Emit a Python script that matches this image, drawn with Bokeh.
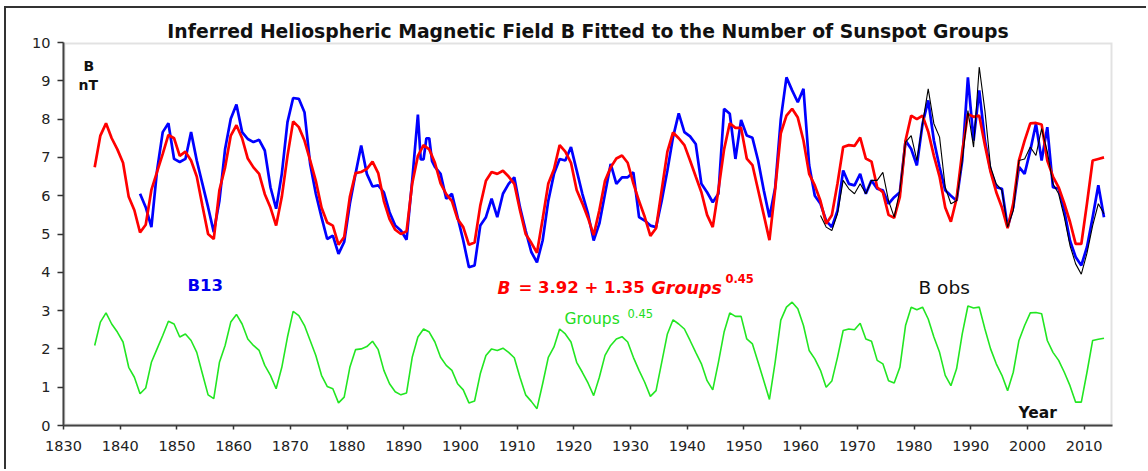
import numpy as np
from bokeh.plotting import figure
from bokeh.models import Label, BoxAnnotation, FixedTicker, Range1d
from bokeh.embed import file_html
from bokeh.resources import INLINE

# ---------------- data ----------------
fit_years = list(np.arange(1835.5, 2014.0, 1.0))  # yearly means, 1835.5 .. 2013.5

groups_045 = [
    2.09, 2.70, 2.94, 2.65, 2.44, 2.18, 1.52, 1.26, 0.83, 0.98,   # 1835-1844
    1.65, 2.00, 2.35, 2.72, 2.65, 2.31, 2.39, 2.22, 1.91, 1.35,   # 1845-1854
    0.80, 0.70, 1.65, 2.09, 2.70, 2.90, 2.65, 2.26, 2.09, 1.96,   # 1855-1864
    1.57, 1.31, 0.96, 1.52, 2.31, 2.98, 2.87, 2.61, 2.22, 1.83,   # 1865-1874
    1.31, 1.02, 0.96, 0.59, 0.74, 1.52, 1.98, 2.00, 2.06, 2.20,   # 1875-1884
    1.98, 1.44, 1.09, 0.88, 0.80, 0.85, 1.78, 2.31, 2.52, 2.44,   # 1885-1894
    2.18, 1.78, 1.57, 1.44, 1.09, 0.93, 0.59, 0.64, 1.35, 1.83,   # 1895-1904
    2.00, 1.96, 2.02, 1.91, 1.77, 1.26, 0.80, 0.63, 0.44, 1.09,   # 1905-1914
    1.78, 2.05, 2.52, 2.39, 2.18, 1.65, 1.39, 1.11, 0.78, 1.26,   # 1915-1924
    1.83, 2.09, 2.26, 2.32, 2.18, 1.78, 1.44, 1.13, 0.76, 0.91,   # 1925-1934
    1.65, 2.39, 2.76, 2.65, 2.52, 2.22, 1.91, 1.61, 1.17, 0.93,   # 1935-1944
    1.65, 2.44, 2.94, 2.85, 2.85, 2.26, 2.13, 1.65, 1.17, 0.68,   # 1945-1954
    1.65, 2.75, 3.09, 3.22, 3.05, 2.61, 1.96, 1.74, 1.44, 1.00,   # 1955-1964
    1.16, 1.78, 2.48, 2.52, 2.50, 2.67, 2.26, 2.20, 1.70, 1.61,   # 1965-1974
    1.17, 1.11, 1.52, 2.61, 3.09, 3.02, 3.09, 2.78, 2.31, 1.91,   # 1975-1984
    1.31, 1.04, 1.48, 2.39, 3.12, 3.07, 3.09, 2.52, 2.00, 1.61,   # 1985-1994
    1.31, 0.91, 1.39, 2.22, 2.61, 2.94, 2.95, 2.92, 2.22, 1.91,   # 1995-2004
    1.70, 1.39, 1.04, 0.61, 0.61, 1.39, 2.22, 2.25, 2.28,         # 2005-2013
]

b_fit = [
    6.74, 7.57, 7.89, 7.50, 7.21, 6.86, 5.97, 5.62, 5.04, 5.24,
    6.15, 6.62, 7.09, 7.59, 7.50, 7.04, 7.15, 6.92, 6.50, 5.74,
    5.00, 4.87, 6.15, 6.74, 7.57, 7.84, 7.50, 6.97, 6.74, 6.57,
    6.04, 5.69, 5.22, 5.97, 7.04, 7.94, 7.79, 7.44, 6.92, 6.39,
    5.69, 5.30, 5.22, 4.72, 4.92, 5.97, 6.59, 6.62, 6.70, 6.89,
    6.59, 5.86, 5.39, 5.11, 5.00, 5.07, 6.32, 7.04, 7.32, 7.21,
    6.86, 6.32, 6.04, 5.86, 5.39, 5.18, 4.72, 4.78, 5.74, 6.39,
    6.62, 6.57, 6.65, 6.50, 6.31, 5.62, 5.00, 4.77, 4.51, 5.39,
    6.32, 6.69, 7.32, 7.15, 6.86, 6.15, 5.80, 5.42, 4.97, 5.62,
    6.39, 6.74, 6.97, 7.05, 6.86, 6.32, 5.86, 5.45, 4.95, 5.15,
    6.15, 7.15, 7.65, 7.50, 7.32, 6.92, 6.50, 6.09, 5.50, 5.18,
    6.15, 7.21, 7.89, 7.77, 7.77, 6.97, 6.80, 6.15, 5.50, 4.84,
    6.15, 7.63, 8.09, 8.27, 8.04, 7.44, 6.57, 6.27, 5.86, 5.27,
    5.49, 6.32, 7.27, 7.32, 7.30, 7.52, 6.97, 6.89, 6.22, 6.09,
    5.50, 5.42, 5.97, 7.44, 8.09, 8.00, 8.09, 7.67, 7.04, 6.50,
    5.69, 5.32, 5.92, 7.15, 8.13, 8.06, 8.09, 7.32, 6.62, 6.09,
    5.69, 5.15, 5.80, 6.92, 7.44, 7.89, 7.90, 7.86, 6.92, 6.50,
    6.22, 5.80, 5.32, 4.74, 4.74, 5.80, 6.92, 6.96, 7.00,
]

b13_years = [
    1843.5, 1844.5, 1845.5, 1846.5, 1847.5, 1848.5, 1849.5, 1850.5, 1851.5, 1852.5,
    1853.5, 1854.5, 1855.5, 1856.5, 1857.5, 1858.5, 1859.5, 1860.5, 1861.5, 1862.5,
    1863.5, 1864.5, 1865.5, 1866.5, 1867.5, 1868.5, 1869.5, 1870.5, 1871.5, 1872.5,
    1873.5, 1874.5, 1875.5, 1876.5, 1877.5, 1878.5, 1879.5, 1880.5, 1881.5, 1882.5,
    1883.5, 1884.5, 1885.5, 1886.5, 1887.5, 1888.5, 1889.5, 1890.5, 1891.5, 1892.5,
    1893.0, 1893.5, 1894.0, 1894.5, 1895.0, 1895.5, 1896.5, 1897.5, 1898.5, 1899.5,
    1900.5, 1901.5, 1902.5, 1903.5, 1904.5, 1905.5, 1906.5, 1907.5, 1908.5, 1909.5,
    1910.5, 1911.5, 1912.5, 1913.5, 1914.5, 1915.5, 1916.5, 1917.5, 1918.5, 1919.5,
    1920.5, 1921.5, 1922.5, 1923.5, 1924.5, 1925.5, 1926.5, 1927.5, 1928.5, 1929.5,
    1930.5, 1931.5, 1932.5, 1933.5, 1934.5, 1935.5, 1936.5, 1937.5, 1938.5, 1939.5,
    1940.5, 1941.5, 1942.5, 1943.5, 1944.5, 1945.5, 1946.5, 1947.5, 1948.5, 1949.5,
    1950.5, 1951.5, 1952.5, 1953.5, 1954.5, 1955.5, 1956.5, 1957.5, 1958.5, 1959.5,
    1960.5, 1961.5, 1962.5, 1963.5, 1964.5, 1965.5, 1966.5, 1967.5, 1968.5, 1969.5,
    1970.5, 1971.5, 1972.5, 1973.5, 1974.5, 1975.5, 1976.5, 1977.5, 1978.5, 1979.5,
    1980.5, 1981.5, 1982.5, 1983.5, 1984.5, 1985.5, 1986.5, 1987.5, 1988.5, 1989.5,
    1990.5, 1991.5, 1992.5, 1993.5, 1994.5, 1995.5, 1996.5, 1997.5, 1998.5, 1999.5,
    2000.5, 2001.5, 2002.5, 2003.5, 2004.5, 2005.5, 2006.5, 2007.5, 2008.5, 2009.5,
    2010.5, 2011.5, 2012.5, 2013.5,
]
b13 = [
    6.05, 5.70, 5.18, 6.66, 7.66, 7.89, 6.96, 6.88, 6.96, 7.66,
    6.92, 6.31, 5.70, 5.05, 5.87, 7.22, 8.01, 8.38, 7.66, 7.48,
    7.40, 7.46, 7.18, 6.22, 5.66, 6.57, 7.92, 8.55, 8.53, 8.18,
    6.83, 6.05, 5.44, 4.87, 4.96, 4.48, 4.79, 5.79, 6.57, 7.31,
    6.57, 6.24, 6.27, 6.09, 5.57, 5.22, 5.09, 4.85, 6.40, 8.12,
    6.95, 6.95, 7.50, 7.50, 6.90, 6.75, 6.57, 5.92, 6.05, 5.44,
    4.83, 4.13, 4.18, 5.22, 5.44, 5.92, 5.44, 6.05, 6.31, 6.48,
    5.70, 5.09, 4.53, 4.26, 4.83, 5.87, 6.57, 6.96, 6.92, 7.27,
    6.66, 6.05, 5.53, 4.83, 5.27, 6.05, 6.83, 6.31, 6.48, 6.48,
    6.61, 5.44, 5.35, 5.22, 5.18, 5.87, 6.66, 7.53, 8.15, 7.66,
    7.55, 7.35, 6.31, 6.09, 5.83, 6.05, 8.27, 8.14, 6.96, 7.98,
    7.57, 7.51, 6.92, 6.14, 5.44, 6.20, 8.00, 9.09, 8.75, 8.44,
    8.79, 6.80, 6.00, 5.79, 5.35, 5.18, 5.61, 6.66, 6.31, 6.27,
    6.57, 6.05, 6.40, 6.18, 6.14, 5.79, 5.96, 6.09, 7.44, 7.22,
    6.79, 7.88, 8.49, 7.44, 6.75, 6.14, 6.00, 5.87, 6.92, 9.09,
    7.44, 8.75, 7.44, 6.66, 6.22, 6.18, 5.18, 5.70, 6.75, 6.57,
    7.18, 7.88, 6.92, 7.79, 6.22, 6.18, 5.61, 4.83, 4.40, 4.18,
    4.66, 5.44, 6.27, 5.44,
]

bobs_years = list(np.arange(1963.5, 2014.0, 1.0))
b_obs = [
    5.48, 5.18, 5.09, 5.53, 6.40, 6.18, 6.05, 6.31, 6.05, 6.40,   # 1963-1972
    6.40, 6.61, 5.87, 5.44, 6.14, 7.40, 7.57, 6.92, 7.88, 8.79,   # 1973-1982
    7.88, 7.53, 6.22, 5.79, 5.87, 6.92, 8.22, 7.27, 9.36, 8.22,   # 1983-1992
    6.75, 6.31, 6.14, 5.18, 5.61, 6.92, 6.96, 7.27, 7.05, 7.75,   # 1993-2002
    7.15, 6.31, 6.05, 5.44, 4.70, 4.22, 3.95, 4.50, 5.22, 5.79,   # 2003-2012
    5.53,
]

x_ticks = list(range(1830, 2011, 10))
y_ticks = list(range(0, 11))
title_text = "Inferred Heliospheric Magnetic Field B Fitted to the Number of Sunspot Groups"

# ---------------- figure ----------------
X0, X1, Y0, Y1 = 1830, 2015, 0, 10
PAGE_W, PAGE_H = 1148, 471
OFF_X, OFF_Y = 6, 8            # outer frame: 4px/6px margin + 2px border
FL, FT, FR, FB = 63, 42, 1112, 425   # frame edges in page pixels
W, H = PAGE_W - OFF_X, PAGE_H - OFF_Y
FW, FH = FR - FL, FB - FT

def dx(px):
    return X0 + (px - FL) * (X1 - X0) / FW

def dy(py):
    return Y0 + (FB - py) * (Y1 - Y0) / FH

p = figure(width=W, height=H, output_backend="svg", toolbar_location=None,
           x_range=Range1d(X0, X1), y_range=Range1d(Y0, Y1),
           min_border_left=FL - OFF_X, min_border_right=PAGE_W - FR,
           min_border_top=FT - OFF_Y, min_border_bottom=PAGE_H - FB)
p.styles = {"margin-left": "4px", "margin-top": "6px",
            "border-left": "2px solid #333333", "border-top": "2px solid #333333"}
p.background_fill_color = "white"
p.border_fill_color = "white"
p.outline_line_color = None
p.xgrid.grid_line_color = None
p.ygrid.grid_line_color = None

FONT = "DejaVu Sans"
p.title.text = title_text
p.title.align = "center"
p.title.text_font = FONT
p.title.text_font_style = "bold"
p.title.text_font_size = "18.8px"
p.title.text_color = "#111111"
p.title.standoff = 2
p.title.offset = 4

for ax in (p.xaxis[0], p.yaxis[0]):
    ax.axis_line_color = "#333333"
    ax.axis_line_width = 2
    ax.major_tick_line_color = "#333333"
    ax.major_tick_line_width = 1.5
    ax.major_tick_in = 0
    ax.minor_tick_line_color = None
    ax.major_label_text_font = FONT
    ax.major_label_text_font_size = "14.5px"
    ax.major_label_text_color = "#222222"
p.xaxis.ticker = FixedTicker(ticks=x_ticks)
p.yaxis.ticker = FixedTicker(ticks=y_ticks)
p.xaxis.major_tick_out = 4
p.yaxis.major_tick_out = 6
p.xaxis.major_label_standoff = 11
p.yaxis.major_label_standoff = 7

# gray frame around plot area (top and right visible)
p.add_layout(BoxAnnotation(left=X0, right=X1, top=Y1, bottom=Y0, fill_alpha=0,
                           line_color="#a0a0a0", line_width=4))

# lines
p.line(fit_years, groups_045, line_color="#22e622", line_width=1.6)
p.line(b13_years, b13, line_color="#0000ff", line_width=2.7)
p.line(fit_years, b_fit, line_color="#ff0000", line_width=2.7)
p.line(bobs_years, b_obs, line_color="#000000", line_width=1.1)

def lab(text, px, py, size, color="#111111", style="normal", align="left", base="alphabetic"):
    p.add_layout(Label(x=dx(px), y=dy(py), text=text, text_font=FONT,
                       text_font_size=size, text_color=color, text_font_style=style,
                       text_align=align, text_baseline=base))

lab("B", 83, 65, "14px", style="bold")
lab("nT", 78, 84, "14px", style="bold")
lab("B13", 187, 285, "16.5px", color="#0000ee", style="bold")
lab("B", 497, 287, "17px", color="#ff0000", style="bold italic")
lab("= 3.92 + 1.35", 518, 287, "16.5px", color="#ff0000", style="bold")
lab("Groups", 651, 287, "17.5px", color="#ff0000", style="bold italic")
lab("0.45", 725, 278, "11.5px", color="#ff0000", style="bold")
lab("Groups", 564, 318, "15.5px", color="#22dd22")
lab("0.45", 627, 313, "11.5px", color="#22dd22")
lab("B obs", 918, 287, "18.5px", color="#111111")
lab("Year", 1018, 412, "15.5px", style="bold")

open("out.html", "w").write(file_html(p, INLINE))
